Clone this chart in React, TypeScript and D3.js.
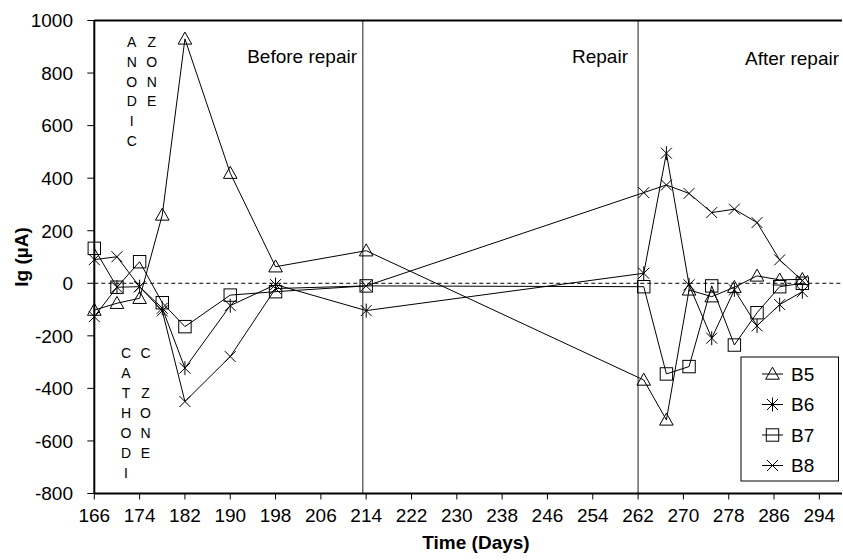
import React from "react";
import * as d3 from "d3";

// Measurement days (before and after the repair)
const days = [166, 170, 174, 178, 182, 190, 198, 214, 263, 267, 271, 275, 279, 283, 287, 291];

// Galvanic current Ig (µA) per specimen
const b5 = [-102, -76, -57, 260, 930, 419, 63, 124, -368, -520, -25, -51, -15, 28, 13, 15];
const b6 = [-127, -15, -13, -95, -323, -85, -5, -104, 38, 495, -6, -209, -25, -162, -81, -32];
const b7 = [133, -15, 82, -74, -165, -45, -32, -10, -13, -345, -317, -10, -235, -112, -13, 0];
const b8 = [90, 101, -13, -105, -450, -279, -20, -10, 345, 374, 342, 269, 282, 231, 89, 10];

const seriesNames = ["B5", "B6", "B7", "B8"];
const seriesValues = [b5, b6, b7, b8];
const markerKinds = ["triangle", "asterisk", "square", "cross"];

const xTicks = d3.range(166, 295, 8);
const yTicks = d3.range(-800, 1001, 200);

// Event markers along the time axis
const phaseLines = [213.4, 262];

const W = 843;
const H = 560;
const left = 94.3;
const right = 842;
const top = 20.5;
const bottom = 493.5;

const FONT = "'Liberation Sans', Arial, Helvetica, sans-serif";

function Marker({ kind, x, y }: { kind: string; x: number; y: number }) {
  const s = 5.5;
  if (kind === "triangle") {
    return (
      <path
        d={`M${x},${y - 6.8}L${x + 6.8},${y + 5.2}L${x - 6.8},${y + 5.2}Z`}
        fill="none"
        stroke="#000"
        strokeWidth={1}
      />
    );
  }
  if (kind === "square") {
    return (
      <rect x={x - 6.2} y={y - 6.2} width={12.4} height={12.4} fill="none" stroke="#000" strokeWidth={1} />
    );
  }
  if (kind === "cross") {
    return (
      <path
        d={`M${x - s},${y - s}L${x + s},${y + s}M${x - s},${y + s}L${x + s},${y - s}`}
        stroke="#000"
        strokeWidth={1}
      />
    );
  }
  // asterisk
  return (
    <path
      d={`M${x - s},${y - s}L${x + s},${y + s}M${x - s},${y + s}L${x + s},${y - s}M${x},${y - 7}L${x},${y + 7}`}
      stroke="#000"
      strokeWidth={1}
    />
  );
}

export default function App() {
  const x = d3.scaleLinear().domain([166, 298]).range([left, right]);
  const y = d3.scaleLinear().domain([-800, 1000]).range([bottom, top]);

  const line = d3
    .line<number>()
    .x((_, i) => x(days[i]))
    .y((v) => y(v));

  const anodic1 = ["A", "N", "O", "D", "I", "C"];
  const anodic2 = ["Z", "O", "N", "E"];
  const cath1 = ["C", "A", "T", "H", "O", "D", "I"];
  const cath2 = ["C", "", "Z", "O", "N", "E"];

  const legendX = 741;
  const legendY = 357;
  const legendRow = 30.5;

  return (
    <svg
      width={W}
      height={H}
      style={{ position: "absolute", left: 0, top: 0, background: "#fff" }}
      fontFamily={FONT}
    >
      <rect x={0} y={0} width={W} height={H} fill="#fff" />

      {/* zero reference */}
      <line x1={left} x2={right} y1={y(0)} y2={y(0)} stroke="#000" strokeWidth={1} strokeDasharray="4,3" />

      {/* phase separators */}
      {phaseLines.map((d) => (
        <line key={d} x1={x(d)} x2={x(d)} y1={top} y2={bottom} stroke="#444" strokeWidth={1.2} />
      ))}

      {/* series */}
      {seriesValues.map((vals, si) => (
        <g key={seriesNames[si]}>
          <path d={line(vals) || ""} fill="none" stroke="#000" strokeWidth={1} />
          {vals.map((v, i) => (
            <Marker key={i} kind={markerKinds[si]} x={x(days[i])} y={y(v)} />
          ))}
        </g>
      ))}

      {/* frame */}
      <line x1={left} x2={right} y1={top} y2={top} stroke="#000" strokeWidth={2} />
      <line x1={left} x2={left} y1={top} y2={bottom} stroke="#000" strokeWidth={2} />
      <line x1={left} x2={right} y1={bottom} y2={bottom} stroke="#000" strokeWidth={2} />

      {/* y axis */}
      {yTicks.map((t) => (
        <g key={t}>
          <line x1={left - 7} x2={left} y1={y(t)} y2={y(t)} stroke="#000" strokeWidth={1} />
          <text x={73} y={y(t) + 6.8} textAnchor="end" fontSize={19} fill="#000">
            {t}
          </text>
        </g>
      ))}

      {/* x axis */}
      {xTicks.map((t) => (
        <g key={t}>
          <line x1={x(t)} x2={x(t)} y1={bottom} y2={bottom + 6} stroke="#000" strokeWidth={1} />
          <text x={x(t)} y={522} textAnchor="middle" fontSize={19} fill="#000">
            {t}
          </text>
        </g>
      ))}

      <text x={476} y={549} textAnchor="middle" fontSize={19} fontWeight="bold" fill="#000">
        Time (Days)
      </text>
      <text
        transform={`translate(28,257) rotate(-90)`}
        textAnchor="middle"
        fontSize={19}
        fontWeight="bold"
        fill="#000"
      >
        Ig (µA)
      </text>

      {/* phase labels */}
      <text x={357} y={63} textAnchor="end" fontSize={19} fill="#000">
        Before repair
      </text>
      <text x={628} y={63} textAnchor="end" fontSize={19} fill="#000">
        Repair
      </text>
      <text x={839} y={65} textAnchor="end" fontSize={19} fill="#000">
        After repair
      </text>

      {/* zone labels */}
      {anodic1.map((c, i) => (
        <text key={"a" + i} x={131.7} y={46.7 + i * 19.9} textAnchor="middle" fontSize={14} fill="#000">
          {c}
        </text>
      ))}
      {anodic2.map((c, i) => (
        <text key={"z" + i} x={151.7} y={46.7 + i * 19.9} textAnchor="middle" fontSize={14} fill="#000">
          {c}
        </text>
      ))}
      {cath1.map((c, i) => (
        <text key={"c" + i} x={126} y={358.3 + i * 20} textAnchor="middle" fontSize={14} fill="#000">
          {c}
        </text>
      ))}
      {cath2.map((c, i) => (
        <text key={"cz" + i} x={145.5} y={358.3 + i * 20} textAnchor="middle" fontSize={14} fill="#000">
          {c}
        </text>
      ))}

      {/* legend */}
      <rect x={legendX} y={legendY} width={97.5} height={124} fill="#fff" stroke="#000" strokeWidth={1} />
      {seriesNames.map((n, i) => {
        const cy = legendY + 17 + i * legendRow;
        return (
          <g key={n}>
            <line x1={762} x2={783} y1={cy} y2={cy} stroke="#000" strokeWidth={1} />
            <Marker kind={markerKinds[i]} x={772.5} y={cy} />
            <text x={791} y={cy + 6.8} fontSize={19} fill="#000">
              {n}
            </text>
          </g>
        );
      })}
    </svg>
  );
}
